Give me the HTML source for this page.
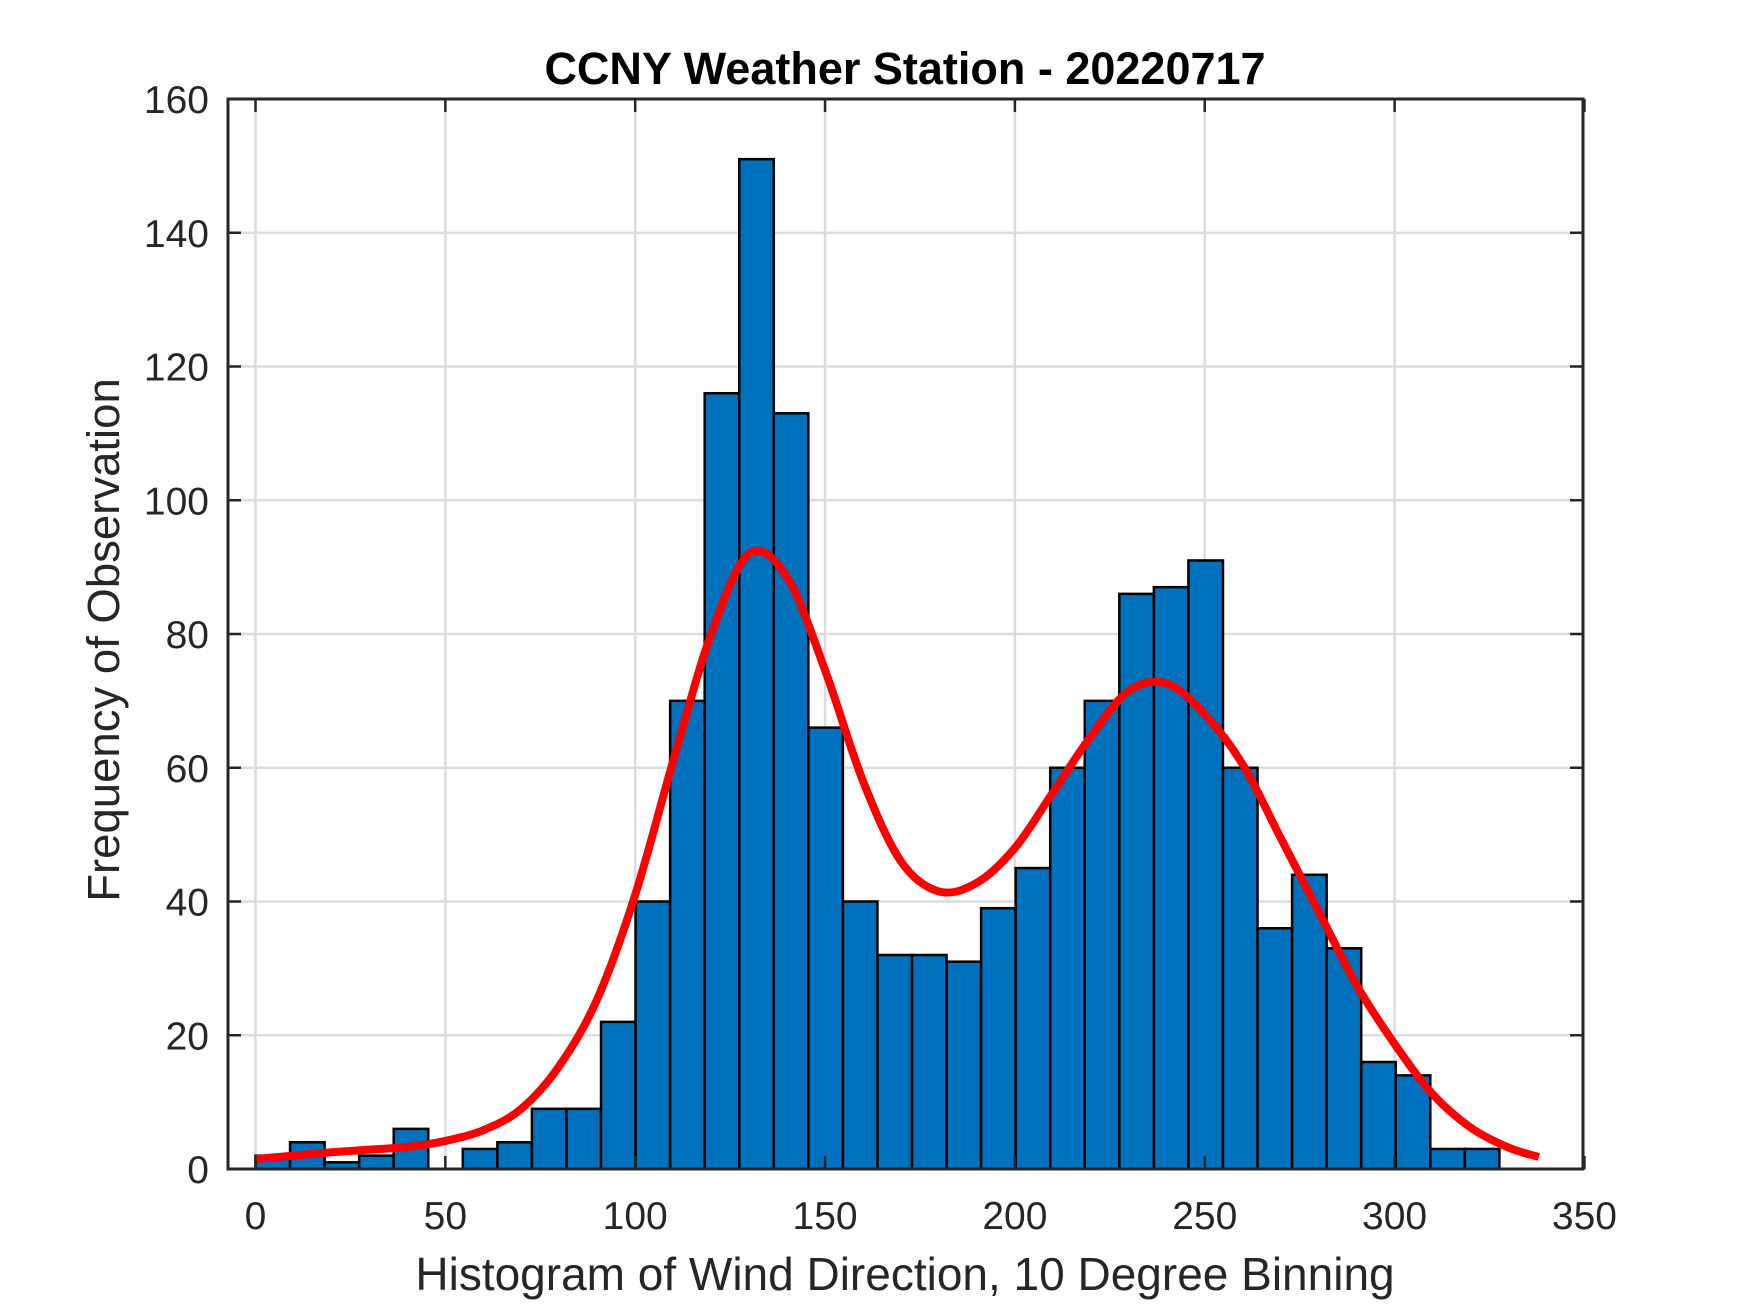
<!DOCTYPE html>
<html><head><meta charset="utf-8"><style>
html,body{margin:0;padding:0;background:#fff;}
svg{display:block;}
text{font-family:"Liberation Sans",Arial,sans-serif;fill:#262626;}
</style></head><body>
<svg id="chart" width="1750" height="1313" viewBox="0 0 1750 1313">
<rect x="0" y="0" width="1750" height="1313" fill="#fff"/>
<g id="grid"></g>
<g id="bars"></g>
<g id="curve"></g>
<g id="axes"></g>
<text x="905" y="84" text-anchor="middle" font-size="45" font-weight="bold" style="fill:#000">CCNY Weather Station - 20220717</text>
<text x="905" y="1290" text-anchor="middle" font-size="46">Histogram of Wind Direction, 10 Degree Binning</text>
<text transform="translate(119,640) rotate(-90)" text-anchor="middle" font-size="45.5">Frequency of Observation</text>
</svg>
<script>
const binWidth = 9.1;
const counts = [2,4,1,2,6,0,3,4,9,9,22,40,70,116,151,113,66,40,32,32,31,39,45,60,70,86,87,91,60,36,44,33,16,14,3,3];
const curveX = [0,10,20,30,40,50,60,70,80,90,100,110,120,130,140,150,160,170,180,190,200,210,220,230,240,250,260,270,280,290,300,310,320,330,338];
const curveY = [1.5,2,2.5,2.9,3.3,4.2,5.8,9,15.4,25.4,41,61,80,92,88.5,74.6,58,46,41.5,42.8,48,56.3,64.7,71.5,72.6,68,60.5,49.5,38.5,27.5,18.7,11.2,6.2,3.2,1.8];
const xTicks = [0,50,100,150,200,250,300,350];
const yTicks = [0,20,40,60,80,100,120,140,160];

const NS='http://www.w3.org/2000/svg';
const L=228,R=1583,T=99,B=1169;
const X=v=>255.5+v*3.797;
const Y=v=>B-v*(B-T)/160;
function mk(tag,attrs,parent){const e=document.createElementNS(NS,tag);for(const k in attrs)e.setAttribute(k,attrs[k]);parent.appendChild(e);return e;}
const grid=document.getElementById('grid'),bars=document.getElementById('bars'),curve=document.getElementById('curve'),axes=document.getElementById('axes');

xTicks.forEach(t=>{
  const x=X(t);
  if(x>L&&x<R){
    const g=mk('line',{x1:x,x2:x,y1:T,y2:B,stroke:'#dcdcdc','stroke-width':2.5},grid);
    
    
  }
  if(x<=R+3){
    const tk1=mk('line',{x1:x,x2:x,y1:B,y2:B-13,stroke:'#262626','stroke-width':2.5},axes);
    
    
    const tk2=mk('line',{x1:x,x2:x,y1:T,y2:T+13,stroke:'#262626','stroke-width':2.5},axes);
    
    
  }
  const lb=mk('text',{x:x,y:1229,'text-anchor':'middle','font-size':39},axes);
  lb.textContent=t;
  
  
});
yTicks.forEach(t=>{
  const y=Y(t);
  if(t>0&&t<160){
    const g=mk('line',{x1:L,x2:R,y1:y,y2:y,stroke:'#dcdcdc','stroke-width':2.5},grid);
    
    
  }
  const tk1=mk('line',{x1:L,x2:L+13,y1:y,y2:y,stroke:'#262626','stroke-width':2.5},axes);
  
  
  const tk2=mk('line',{x1:R,x2:R-13,y1:y,y2:y,stroke:'#262626','stroke-width':2.5},axes);
  
  
  const lb=mk('text',{x:209,y:y+14,'text-anchor':'end','font-size':39},axes);
  lb.textContent=t;
  
  
});
counts.forEach((c,i)=>{
  if(c<=0)return;
  const x0=X(i*binWidth),x1=X((i+1)*binWidth);
  const r=mk('rect',{x:x0,y:Y(c),width:x1-x0,height:B-Y(c),fill:'#0072BD',stroke:'#000','stroke-width':2.5},bars);
  
  
});
const pts=curveX.map((v,i)=>[X(v),Y(curveY[i])]);
let d='M'+pts[0][0]+','+pts[0][1];
for(let i=0;i<pts.length-1;i++){
  const p0=pts[Math.max(0,i-1)],p1=pts[i],p2=pts[i+1],p3=pts[Math.min(pts.length-1,i+2)];
  const c1=[p1[0]+(p2[0]-p0[0])/6,p1[1]+(p2[1]-p0[1])/6];
  const c2=[p2[0]-(p3[0]-p1[0])/6,p2[1]-(p3[1]-p1[1])/6];
  d+=' C'+c1[0]+','+c1[1]+' '+c2[0]+','+c2[1]+' '+p2[0]+','+p2[1];
}
const path=mk('path',{d:d,fill:'none',stroke:'#ff0000','stroke-width':8,'stroke-linejoin':'round'},curve);


const box=mk('rect',{x:L,y:T,width:R-L,height:B-T,fill:'none',stroke:'#262626','stroke-width':3},axes);


</script>
</body></html>
